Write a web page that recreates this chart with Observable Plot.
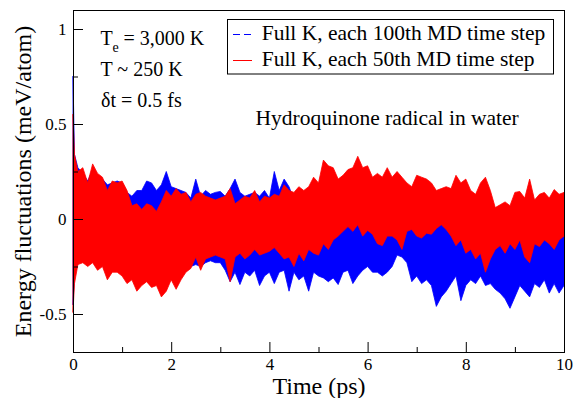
<!DOCTYPE html>
<html><head><meta charset="utf-8">
<script src="https://cdn.jsdelivr.net/npm/d3@7"></script>
<script src="https://cdn.jsdelivr.net/npm/@observablehq/plot@0.6"></script>
<style>html,body{margin:0;padding:0;background:#fff;} svg{display:block}</style>
</head><body><div id="chart"></div>
<script>
// Time (ps) sample positions
const time = [0, 0.03,
  0.1,0.2,0.3,0.4,0.5,0.6,0.7,0.8,0.9,1.0,
  1.1,1.2,1.3,1.4,1.5,1.6,1.7,1.8,1.9,2.0,
  2.1,2.2,2.3,2.4,2.5,2.6,2.7,2.8,2.9,3.0,
  3.1,3.2,3.3,3.4,3.5,3.6,3.7,3.8,3.9,4.0,
  4.1,4.2,4.3,4.4,4.5,4.6,4.7,4.8,4.9,5.0,
  5.1,5.2,5.3,5.4,5.5,5.6,5.7,5.8,5.9,6.0,
  6.1,6.2,6.3,6.4,6.5,6.6,6.7,6.8,6.9,7.0,
  7.1,7.2,7.3,7.4,7.5,7.6,7.7,7.8,7.9,8.0,
  8.1,8.2,8.3,8.4,8.5,8.6,8.7,8.8,8.9,9.0,
  9.1,9.2,9.3,9.4,9.5,9.6,9.7,9.8,9.9,10.0];

// "each 50th MD time step" (red): upper / lower envelope of the fluctuations
const redUpper = [0.55, 0.34,
  0.25,0.27,0.19,0.29,0.24,0.22,0.15,0.20,0.19,0.20,
  0.15,0.07,0.08,0.05,0.08,0.07,0.04,0.09,0.15,0.12,
  0.16,0.13,0.14,0.09,0.13,0.14,0.12,0.11,0.10,0.11,
  0.12,0.16,0.08,0.10,0.12,0.11,0.15,0.09,0.12,0.11,
  0.13,0.12,0.18,0.15,0.14,0.17,0.15,0.17,0.22,0.19,
  0.31,0.28,0.27,0.21,0.23,0.26,0.27,0.33,0.27,0.28,
  0.22,0.24,0.22,0.27,0.22,0.25,0.22,0.19,0.17,0.23,
  0.22,0.21,0.19,0.15,0.16,0.17,0.16,0.23,0.19,0.21,
  0.15,0.13,0.19,0.22,0.15,0.06,0.075,0.09,0.07,0.14,
  0.145,0.11,0.21,0.10,0.13,0.14,0.11,0.155,0.13,0.14];
const redLower = [-0.49, -0.34,
  -0.24,-0.23,-0.25,-0.23,-0.27,-0.25,-0.32,-0.28,-0.28,-0.30,
  -0.34,-0.32,-0.38,-0.35,-0.33,-0.36,-0.35,-0.41,-0.38,-0.32,
  -0.37,-0.32,-0.28,-0.26,-0.20,-0.27,-0.21,-0.20,-0.19,-0.20,
  -0.21,-0.33,-0.20,-0.18,-0.21,-0.19,-0.16,-0.19,-0.18,-0.17,
  -0.15,-0.18,-0.21,-0.20,-0.25,-0.18,-0.22,-0.16,-0.18,-0.19,
  -0.13,-0.16,-0.11,-0.09,-0.065,-0.04,-0.065,-0.03,-0.09,-0.06,
  -0.08,-0.13,-0.14,-0.09,-0.09,-0.11,-0.16,-0.065,-0.055,-0.09,
  -0.10,-0.075,-0.08,-0.05,-0.03,-0.055,-0.09,-0.14,-0.11,-0.18,
  -0.16,-0.21,-0.18,-0.28,-0.21,-0.16,-0.14,-0.18,-0.13,-0.16,
  -0.11,-0.20,-0.23,-0.13,-0.145,-0.11,-0.13,-0.16,-0.11,-0.09];

// "each 100th MD time step" (blue): upper / lower envelope
const blueUpper = [0.75, 0.34,
  0.27,0.24,0.20,0.26,0.23,0.21,0.18,0.19,0.20,0.19,
  0.14,0.12,0.15,0.15,0.20,0.19,0.15,0.18,0.25,0.17,
  0.16,0.15,0.14,0.11,0.21,0.12,0.15,0.13,0.14,0.145,
  0.12,0.16,0.21,0.14,0.12,0.13,0.14,0.12,0.15,0.11,
  0.25,0.15,0.21,0.17,0.10,0.12,0.14,0.10,0.08,0.07,
  0.06,0.05,0.05,0.06,0.07,0.08,0.06,0.07,0.06,0.05,
  0.05,0.04,0.04,0.05,0.06,0.08,0.07,0.05,0.03,0.03,
  0.02,0.02,0.01,0.00,0.00,-0.01,-0.02,-0.02,-0.03,-0.03,
  -0.04,-0.05,-0.05,-0.06,-0.06,-0.07,-0.07,-0.08,-0.08,-0.07,
  -0.06,-0.06,-0.06,-0.05,-0.05,-0.05,-0.05,-0.04,-0.04,-0.04];
const blueLower = [-0.45, -0.30,
  -0.23,-0.22,-0.24,-0.22,-0.26,-0.24,-0.30,-0.27,-0.27,-0.29,
  -0.31,-0.30,-0.33,-0.32,-0.31,-0.32,-0.31,-0.36,-0.33,-0.30,
  -0.33,-0.30,-0.27,-0.25,-0.24,-0.25,-0.23,-0.22,-0.23,-0.23,
  -0.27,-0.33,-0.28,-0.345,-0.28,-0.30,-0.27,-0.35,-0.30,-0.28,
  -0.34,-0.28,-0.27,-0.38,-0.28,-0.32,-0.30,-0.38,-0.28,-0.30,
  -0.31,-0.33,-0.31,-0.345,-0.28,-0.27,-0.34,-0.30,-0.27,-0.25,
  -0.28,-0.28,-0.30,-0.28,-0.25,-0.19,-0.20,-0.23,-0.33,-0.30,
  -0.34,-0.32,-0.35,-0.46,-0.41,-0.38,-0.34,-0.30,-0.43,-0.35,
  -0.32,-0.34,-0.30,-0.35,-0.34,-0.37,-0.39,-0.42,-0.47,-0.41,
  -0.35,-0.38,-0.41,-0.34,-0.36,-0.32,-0.39,-0.34,-0.39,-0.35];

const xMajor = [0, 2, 4, 6, 8, 10];
const xMinor = [1, 3, 5, 7, 9];
const yMajor = [-0.5, 0, 0.5, 1];
const yMinor = [-0.25, 0.25, 0.75];
const seriesNames = ["Full K, each 100th MD time step", "Full K, each 50th MD time step"];
const seriesColors = ["#0000ff", "#ff0000"];

const blueData = time.map((t, i) => ({t, hi: blueUpper[i], lo: blueLower[i]}));
const redData = time.map((t, i) => ({t, hi: redUpper[i], lo: redLower[i]}));

const Y0 = -0.7, Y1 = 1.1;
const serif = "'Liberation Serif', 'Times New Roman', serif";

const chart = Plot.plot({
  width: 576, height: 398,
  marginLeft: 73, marginRight: 12, marginTop: 10, marginBottom: 46,
  x: {domain: [0, 10]},
  y: {domain: [Y0, Y1]},
  style: {fontFamily: serif, background: "#fff", color: "#000", overflow: "visible"},
  marks: [
    Plot.areaY(blueData, {x: "t", y1: "lo", y2: "hi", fill: seriesColors[0], stroke: seriesColors[0], strokeWidth: 0.8}),
    Plot.areaY(redData, {x: "t", y1: "lo", y2: "hi", fill: seriesColors[1], stroke: seriesColors[1], strokeWidth: 0.8}),
    Plot.ruleX(xMajor, {x: d => d, y1: Y0, y2: Y0, insetTop: -10, stroke: "#000"}),
    Plot.ruleX(xMinor, {x: d => d, y1: Y0, y2: Y0, insetTop: -5, stroke: "#000"}),
    Plot.ruleY(yMajor, {y: d => d, x1: 0, x2: 0, insetRight: -10, stroke: "#000"}),
    Plot.ruleY(yMinor, {y: d => d, x1: 0, x2: 0, insetRight: -5, stroke: "#000"}),
    Plot.frame({stroke: "#000"}),
    Plot.axisX({ticks: xMajor, tickSize: 0, tickPadding: 5, fontSize: 17, label: null, tickFormat: d => String(d)}),
    Plot.axisY({ticks: yMajor, tickSize: 0, tickPadding: 7, fontSize: 17, label: null, tickFormat: d => String(d)}),
    Plot.text(["Time (ps)"], {text: d => d, frameAnchor: "bottom", dy: 41, lineAnchor: "bottom", textAnchor: "middle", fontSize: 24}),
    Plot.text(["Energy fluctuations (meV/atom)"], {text: d => d, frameAnchor: "left", rotate: -90, dx: -42.5, lineAnchor: "bottom", textAnchor: "middle", fontSize: 24}),
    Plot.text(["T"], {text: d => d, frameAnchor: "top-left", dx: 27, dy: 34.3, lineAnchor: "bottom", textAnchor: "start", fontSize: 20}),
    Plot.text(["e"], {text: d => d, frameAnchor: "top-left", dx: 39, dy: 41.5, lineAnchor: "bottom", textAnchor: "start", fontSize: 14}),
    Plot.text(["= 3,000 K"], {text: d => d, frameAnchor: "top-left", dx: 50, dy: 34.3, lineAnchor: "bottom", textAnchor: "start", fontSize: 20}),
    Plot.text(["T ~ 250 K"], {text: d => d, frameAnchor: "top-left", dx: 27, dy: 65, lineAnchor: "bottom", textAnchor: "start", fontSize: 20}),
    Plot.text(["\u03B4t = 0.5 fs"], {text: d => d, frameAnchor: "top-left", dx: 27.5, dy: 96, lineAnchor: "bottom", textAnchor: "start", fontSize: 20}),
    Plot.text(["Hydroquinone radical in water"], {text: d => d, frameAnchor: "top-left", dx: 182, dy: 114, lineAnchor: "bottom", textAnchor: "start", fontSize: 21.5})
  ]
});

// Legend box (top right, inside the plot)
const svg = d3.select(chart);
const lg = svg.append("g").attr("font-family", serif).attr("font-size", 21.5).attr("text-anchor", "start");
lg.append("rect").attr("x", 227.5).attr("y", 19.5).attr("width", 326).attr("height", 54.5)
  .attr("fill", "#fff").attr("stroke", "#000").attr("stroke-width", 1);
seriesNames.forEach((name, i) => {
  const yLine = i === 0 ? 34.5 : 60.5;
  const yText = i === 0 ? 40 : 65.7;
  lg.append("line").attr("x1", 232.5).attr("x2", 252).attr("y1", yLine).attr("y2", yLine)
    .attr("stroke", seriesColors[i]).attr("stroke-width", 1).attr("shape-rendering", "crispEdges")
    .attr("stroke-dasharray", i === 0 ? "7,4" : null);
  lg.append("text").attr("x", 261.7).attr("y", yText).attr("text-anchor", "start").attr("fill", "#000").text(name);
});

document.getElementById("chart").appendChild(chart);
</script></body></html>
